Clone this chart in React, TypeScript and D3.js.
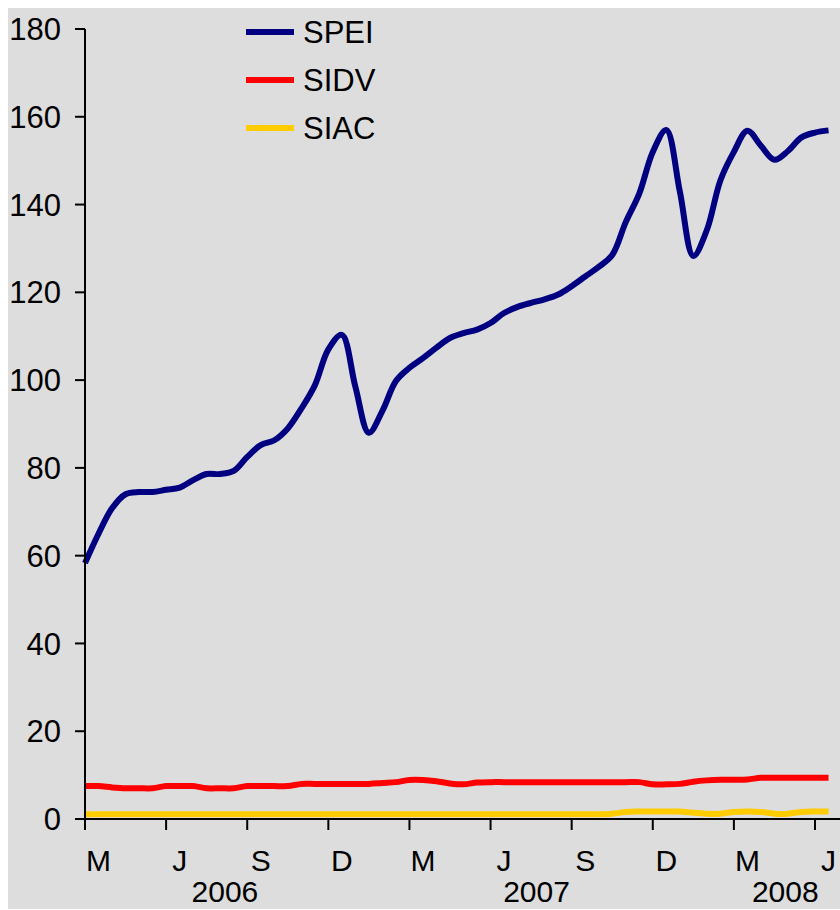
import React from "react";
import * as d3 from "d3";

// Semi-monthly observations, 1 Mar 2006 .. 16 Jun 2008 (56 points)
const SPEI = [
  58.3, 65, 70.8, 74, 74.5, 74.5, 75, 75.5, 77.2, 78.6, 78.6, 79.3, 82.5, 85.2, 86.3, 89,
  93.5, 98.8, 107, 110.3, 98.5, 88, 93, 99.8, 102.8, 105, 107.4, 109.6, 110.7, 111.5, 113,
  115.3, 116.7, 117.6, 118.4, 119.5, 121.4, 123.6, 125.8, 128.5, 136, 142.5, 152, 157, 143,
  128.3, 134.2, 145.5, 152, 156.8, 153.4, 150.2, 152.2, 155.3, 156.4, 156.9,
];
const SIDV = [
  7.5, 7.5, 7.2, 7.0, 7.0, 7.0, 7.5, 7.5, 7.5, 7.0, 7.0, 7.0, 7.5, 7.5, 7.5, 7.5, 8.0, 8.0,
  8.0, 8.0, 8.0, 8.0, 8.2, 8.4, 8.9, 8.9, 8.6, 8.1, 7.9, 8.3, 8.4, 8.4, 8.4, 8.4, 8.4, 8.4,
  8.4, 8.4, 8.4, 8.4, 8.4, 8.4, 7.9, 7.9, 8.0, 8.5, 8.8, 8.95, 8.95, 9.0, 9.4, 9.4, 9.4, 9.4,
  9.4, 9.4,
];
const SIAC = [
  1.1, 1.1, 1.1, 1.1, 1.1, 1.1, 1.1, 1.1, 1.1, 1.1, 1.1, 1.1, 1.1, 1.1, 1.1, 1.1, 1.1, 1.1,
  1.1, 1.1, 1.1, 1.1, 1.1, 1.1, 1.1, 1.1, 1.1, 1.1, 1.1, 1.1, 1.1, 1.1, 1.1, 1.1, 1.1, 1.1,
  1.1, 1.1, 1.1, 1.2, 1.6, 1.7, 1.7, 1.7, 1.7, 1.4, 1.2, 1.2, 1.6, 1.7, 1.6, 1.2, 1.2, 1.6,
  1.7, 1.7,
];

const SERIES = [
  { name: "SPEI", values: SPEI, color: "#000080" },
  { name: "SIDV", values: SIDV, color: "#FF0000" },
  { name: "SIAC", values: SIAC, color: "#FFCC00" },
];

const MONTH_LABELS = ["M", "J", "S", "D", "M", "J", "S", "D", "M", "J"];
// year label positions expressed in semi-month period index
const YEAR_LABELS = [
  { label: "2006", pos: 10.35 },
  { label: "2007", pos: 33.4 },
  { label: "2008", pos: 51.8 },
];
const Y_TICKS = [0, 20, 40, 60, 80, 100, 120, 140, 160, 180];

const FONT = "'Liberation Sans', Arial, sans-serif";

export default function App() {
  const W = 840;
  const H = 910;
  const x = d3.scaleLinear().domain([0, 54]).range([85, 815]);
  const y = d3.scaleLinear().domain([0, 180]).range([819, 29]);
  const line = d3
    .line<number>()
    .x((_, i) => x(i))
    .y((d) => y(d))
    .curve(d3.curveCatmullRom.alpha(0.5));

  return (
    <svg
      width={W}
      height={H}
      style={{ position: "absolute", left: 0, top: 0, display: "block" }}
      fontFamily={FONT}
    >
      <rect x={8} y={8} width={832} height={901} fill="#DDDDDD" />

      {/* series */}
      {SERIES.slice()
        .reverse()
        .map((s) => (
          <path
            key={s.name}
            d={line(s.values) || ""}
            fill="none"
            stroke={s.color}
            strokeWidth={6}
            strokeLinejoin="round"
            strokeLinecap="butt"
          />
        ))}

      {/* y axis */}
      <line x1={x(0)} x2={x(0)} y1={y(180)} y2={y(0)} stroke="#000" strokeWidth={2} />
      {Y_TICKS.map((t) => (
        <g key={t}>
          <line x1={x(0) - 10} x2={x(0)} y1={y(t)} y2={y(t)} stroke="#000" strokeWidth={2} />
          <text x={61} y={y(t)} dy="0.36em" textAnchor="end" fontSize={31} fill="#000">
            {t}
          </text>
        </g>
      ))}

      {/* x axis */}
      <line x1={x(0) - 10} x2={840} y1={y(0)} y2={y(0)} stroke="#000" strokeWidth={2} />
      {MONTH_LABELS.map((m, k) => (
        <g key={k}>
          <line
            x1={x(6 * k)}
            x2={x(6 * k)}
            y1={y(0)}
            y2={y(0) + 11}
            stroke="#000"
            strokeWidth={2}
          />
          <text x={x(6 * k + 1)} y={871} textAnchor="middle" fontSize={30} fill="#000">
            {m}
          </text>
        </g>
      ))}
      {YEAR_LABELS.map((yl) => (
        <text key={yl.label} x={x(yl.pos)} y={902} textAnchor="middle" fontSize={30} fill="#000">
          {yl.label}
        </text>
      ))}

      {/* legend */}
      {SERIES.map((s, i) => (
        <g key={s.name} transform={`translate(246, ${32 + i * 48})`}>
          <line x1={0} x2={48} y1={0} y2={0} stroke={s.color} strokeWidth={6} />
          <text x={57} y={0} dy="0.36em" fontSize={31} fill="#000">
            {s.name}
          </text>
        </g>
      ))}
    </svg>
  );
}
